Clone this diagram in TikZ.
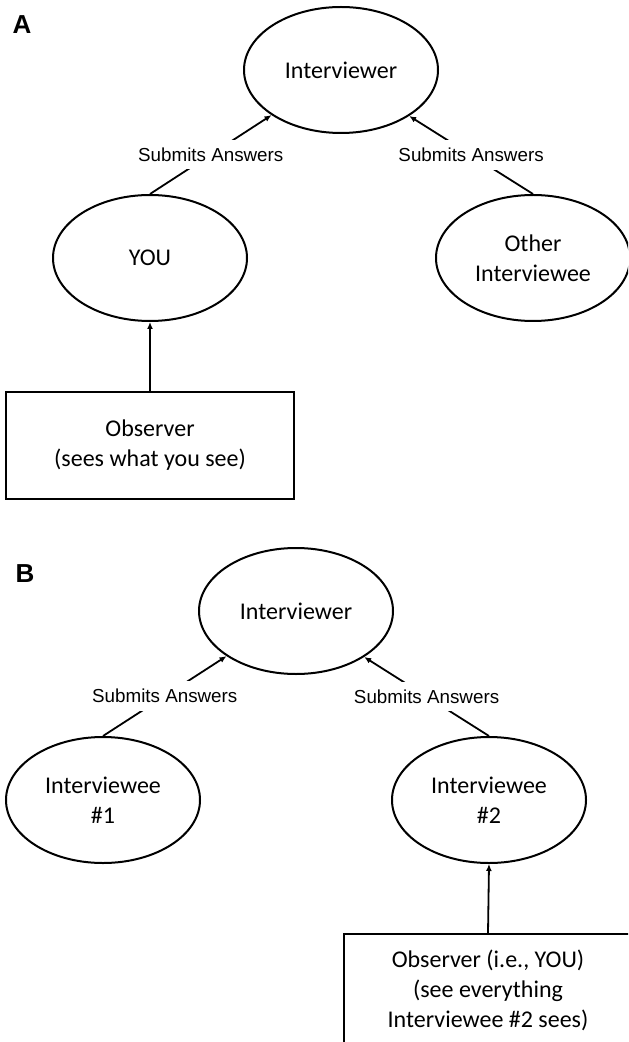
\documentclass[tikz,border=0pt]{standalone}
\usepackage{fontspec}
\setmainfont{Carlito}
\newfontfamily\arialfont{Liberation Sans}
\usetikzlibrary{shapes.geometric, arrows.meta}

\begin{document}
\begin{tikzpicture}[x=0.5pt, y=-0.5pt,
    party/.style={ellipse, draw, line width=1pt, minimum width=97pt, minimum height=63pt, inner sep=0pt, align=center, font=\fontsize{12}{15}\selectfont},
    observer/.style={rectangle, draw, line width=1pt, minimum width=144pt, inner sep=0pt, align=center, font=\fontsize{12}{15}\selectfont},
    answers/.style={fill=white, inner sep=4pt, font=\arialfont\fontsize{9.4}{11}\selectfont},
    submit/.style={-{Latex[length=3.5pt, width=3pt]}, line width=0.9pt},
    panel/.style={font=\arialfont\bfseries\fontsize{13}{15}\selectfont, inner sep=0pt}]

    \path[use as bounding box, clip] (0,0) rectangle (628,1042);

    % Panel A
    \node[panel] (LabelA) at (22,25) {A};
    \node[party] (InterviewerA) at (341,70) {Interviewer};
    \node[party] (You) at (150,258) {YOU};
    \node[party] (Other) at (533,258) {Other\\Interviewee};
    \node[observer, minimum height=53.5pt] (ObserverA) at (150,445.5) {Observer\\(sees what you see)};

    % Answers go up to the interviewer
    \draw[submit] (You.north) -- node[answers] {Submits Answers} (InterviewerA.213.5);
    \draw[submit] (Other.north) -- node[answers] {Submits Answers} (InterviewerA.326.5);
    \draw[submit] (ObserverA.north) -- (You.south);

    % Panel B
    \node[panel] (LabelB) at (25,574) {B};
    \node[party] (InterviewerB) at (296,611) {Interviewer};
    \node[party] (IntervieweeOne) at (103,800) {Interviewee\\\#1};
    \node[party] (IntervieweeTwo) at (489,800) {Interviewee\\\#2};
    \node[observer, minimum height=56pt] (ObserverB) at (488,990) {Observer (i.e., YOU)\\(see everything\\Interviewee \#2 sees)};

    \draw[submit] (IntervieweeOne.north) -- node[answers] {Submits Answers} (InterviewerB.213.5);
    \draw[submit] (IntervieweeTwo.north) -- node[answers] {Submits Answers} (InterviewerB.326.5);
    \draw[submit] (ObserverB.north) -- (IntervieweeTwo.south);
\end{tikzpicture}
\end{document}
